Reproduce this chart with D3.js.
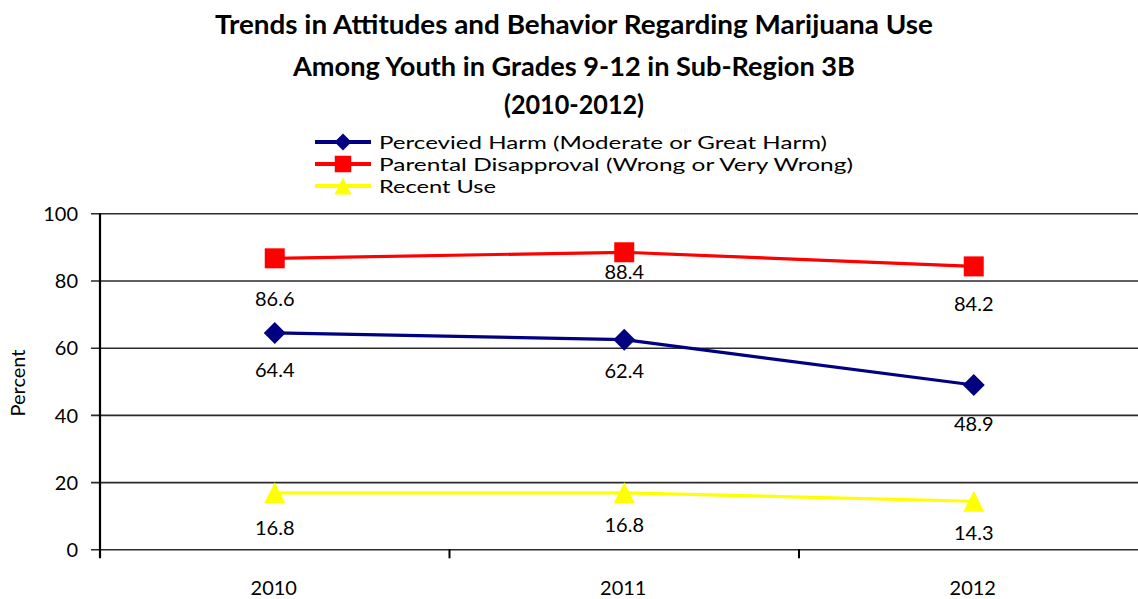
<!DOCTYPE html>
<html>
<head>
<meta charset="utf-8">
<script src="https://cdn.jsdelivr.net/npm/d3@7/dist/d3.min.js"></script>
<style>
  html, body { margin: 0; padding: 0; background: #fff; }
  svg { display: block; font-family: Lato, "Open Sans", sans-serif; }
</style>
</head>
<body>
<svg id="chart" width="1138" height="599"></svg>
<script>
// ---- data ----
const years = ["2010", "2011", "2012"];
const perceivedHarm = [64.4, 62.4, 48.9];
const parentalDisapproval = [86.6, 88.4, 84.2];
const recentUse = [16.8, 16.8, 14.3];
const yTicks = [0, 20, 40, 60, 80, 100];
const titleLines = [
  "Trends in Attitudes and Behavior Regarding Marijuana Use",
  "Among Youth in Grades 9-12 in Sub-Region 3B",
  "(2010-2012)"
];
const seriesNames = [
  "Percevied Harm (Moderate or Great Harm)",
  "Parental Disapproval (Wrong or Very Wrong)",
  "Recent Use"
];

// ---- layout ----
const W = 1138, H = 599;
const plot = { left: 100, right: 1148.5, top: 213.3, bottom: 549.3 };
// vertical offset of each value label below its marker (per series, per year)
const labelOffsets = [[37, 31.5, 39], [40.7, 20, 37.6], [35, 32, 32]];

const svg = d3.select("#chart");
svg.append("rect").attr("width", W).attr("height", H).attr("fill", "#fff");

const x = d3.scaleBand().domain(years).range([plot.left, plot.right]).padding(0);
const y = d3.scaleLinear().domain([0, 100]).range([plot.bottom, plot.top]);
const cx = d => x(d) + x.bandwidth() / 2;

// box-centred triangle, as drawn by spreadsheet charts
const boxTriangle = {
  draw(ctx, size) {
    const s = Math.sqrt(size);
    ctx.moveTo(0, -s / 2);
    ctx.lineTo(s / 2, s / 2);
    ctx.lineTo(-s / 2, s / 2);
    ctx.closePath();
  }
};
// diamond as a square turned 45 degrees
const squareDiamond = {
  draw(ctx, size) {
    const r = Math.sqrt(size) / 2;
    ctx.moveTo(0, -r);
    ctx.lineTo(r, 0);
    ctx.lineTo(0, r);
    ctx.lineTo(-r, 0);
    ctx.closePath();
  }
};

const series = [
  { name: seriesNames[0], values: perceivedHarm, color: "#000080", type: squareDiamond, size: 22 * 22, legendSize: 17 * 17 },
  { name: seriesNames[1], values: parentalDisapproval, color: "#FF0000", type: d3.symbolSquare, size: 20 * 20, legendSize: 16.5 * 16.5 },
  { name: seriesNames[2], values: recentUse, color: "#FFFF00", type: boxTriangle, size: 21 * 21, legendSize: 17 * 17 }
];

// ---- title ----
const titleY = [34, 76, 114];
const titleWidths = [718, 562, 140];
svg.append("g").selectAll("text")
  .data(titleLines)
  .join("text")
  .attr("x", 574)
  .attr("y", (d, i) => titleY[i])
  .attr("text-anchor", "middle")
  .attr("font-size", 27)
  .attr("font-weight", 700)
  .attr("fill", "#000")
  .attr("textLength", (d, i) => titleWidths[i])
  .attr("lengthAdjust", "spacingAndGlyphs")
  .text(d => d);

// ---- gridlines + y axis ----
const yAxis = d3.axisLeft(y)
  .tickValues(yTicks)
  .tickSizeInner(-(W - plot.left))
  .tickSizeOuter(0)
  .tickPadding(22)
  .tickFormat(d3.format("d"));

const gy = svg.append("g")
  .attr("transform", `translate(${plot.left},0)`)
  .call(yAxis);
gy.select(".domain").remove();
gy.selectAll(".tick line")
  .attr("x1", -9)
  .attr("stroke", "#2b2b2b")
  .attr("stroke-width", 1.6);
gy.selectAll(".tick text")
  .attr("font-family", "Lato, sans-serif")
  .attr("font-size", 20)
  .attr("fill", "#000")
  .attr("dy", "0.36em");

// vertical axis line
svg.append("line")
  .attr("x1", plot.left).attr("x2", plot.left)
  .attr("y1", plot.top).attr("y2", plot.bottom + 9)
  .attr("stroke", "#000").attr("stroke-width", 2.2);

// category separator ticks on the x axis
const xBounds = years.slice(1).map(d => x(d));
svg.append("g").selectAll("line")
  .data(xBounds)
  .join("line")
  .attr("x1", d => d).attr("x2", d => d)
  .attr("y1", plot.bottom).attr("y2", plot.bottom + 9)
  .attr("stroke", "#000").attr("stroke-width", 2);

// category labels
svg.append("g").selectAll("text")
  .data(years)
  .join("text")
  .attr("x", d => cx(d) - 1)
  .attr("y", 595)
  .attr("text-anchor", "middle")
  .attr("font-size", 20)
  .attr("fill", "#000")
  .text(d => d);

// y axis title
svg.append("text")
  .attr("transform", "translate(25,383) rotate(-90)")
  .attr("text-anchor", "middle")
  .attr("font-size", 20)
  .attr("fill", "#000")
  .text("Percent");

// ---- series ----
const line = d3.line()
  .x((d, i) => cx(years[i]))
  .y(d => y(d));

series.forEach((s, si) => {
  const g = svg.append("g");
  g.append("path")
    .datum(s.values)
    .attr("d", line)
    .attr("fill", "none")
    .attr("stroke", s.color)
    .attr("stroke-width", 3.2)
    .attr("stroke-linejoin", "round");
  g.selectAll("path.marker")
    .data(s.values)
    .join("path")
    .attr("class", "marker")
    .attr("transform", (d, i) => `translate(${cx(years[i])},${y(d)})`)
    .attr("d", d3.symbol().type(s.type).size(s.size))
    .attr("fill", s.color);
  g.selectAll("text")
    .data(s.values)
    .join("text")
    .attr("x", (d, i) => cx(years[i]))
    .attr("y", (d, i) => y(d) + labelOffsets[si][i] + 7)
    .attr("text-anchor", "middle")
    .attr("font-size", 20)
    .attr("fill", "#000")
    .text(d => d3.format(".1f")(d));
});

// ---- legend ----
const legendRows = [142, 164, 186];
const legendWidths = [448, 474, 117];
const legend = svg.append("g");
series.forEach((s, i) => {
  const ry = legendRows[i];
  legend.append("line")
    .attr("x1", 315).attr("x2", 371)
    .attr("y1", ry).attr("y2", ry)
    .attr("stroke", s.color).attr("stroke-width", 4);
  legend.append("path")
    .attr("transform", `translate(343,${ry})`)
    .attr("d", d3.symbol().type(s.type).size(s.legendSize))
    .attr("fill", s.color);
  legend.append("text")
    .attr("x", 379)
    .attr("y", ry + 6.8)
    .attr("font-size", 18)
    .attr("fill", "#000")
    .attr("textLength", legendWidths[i])
    .attr("lengthAdjust", "spacingAndGlyphs")
    .text(s.name);
});
</script>
</body>
</html>
